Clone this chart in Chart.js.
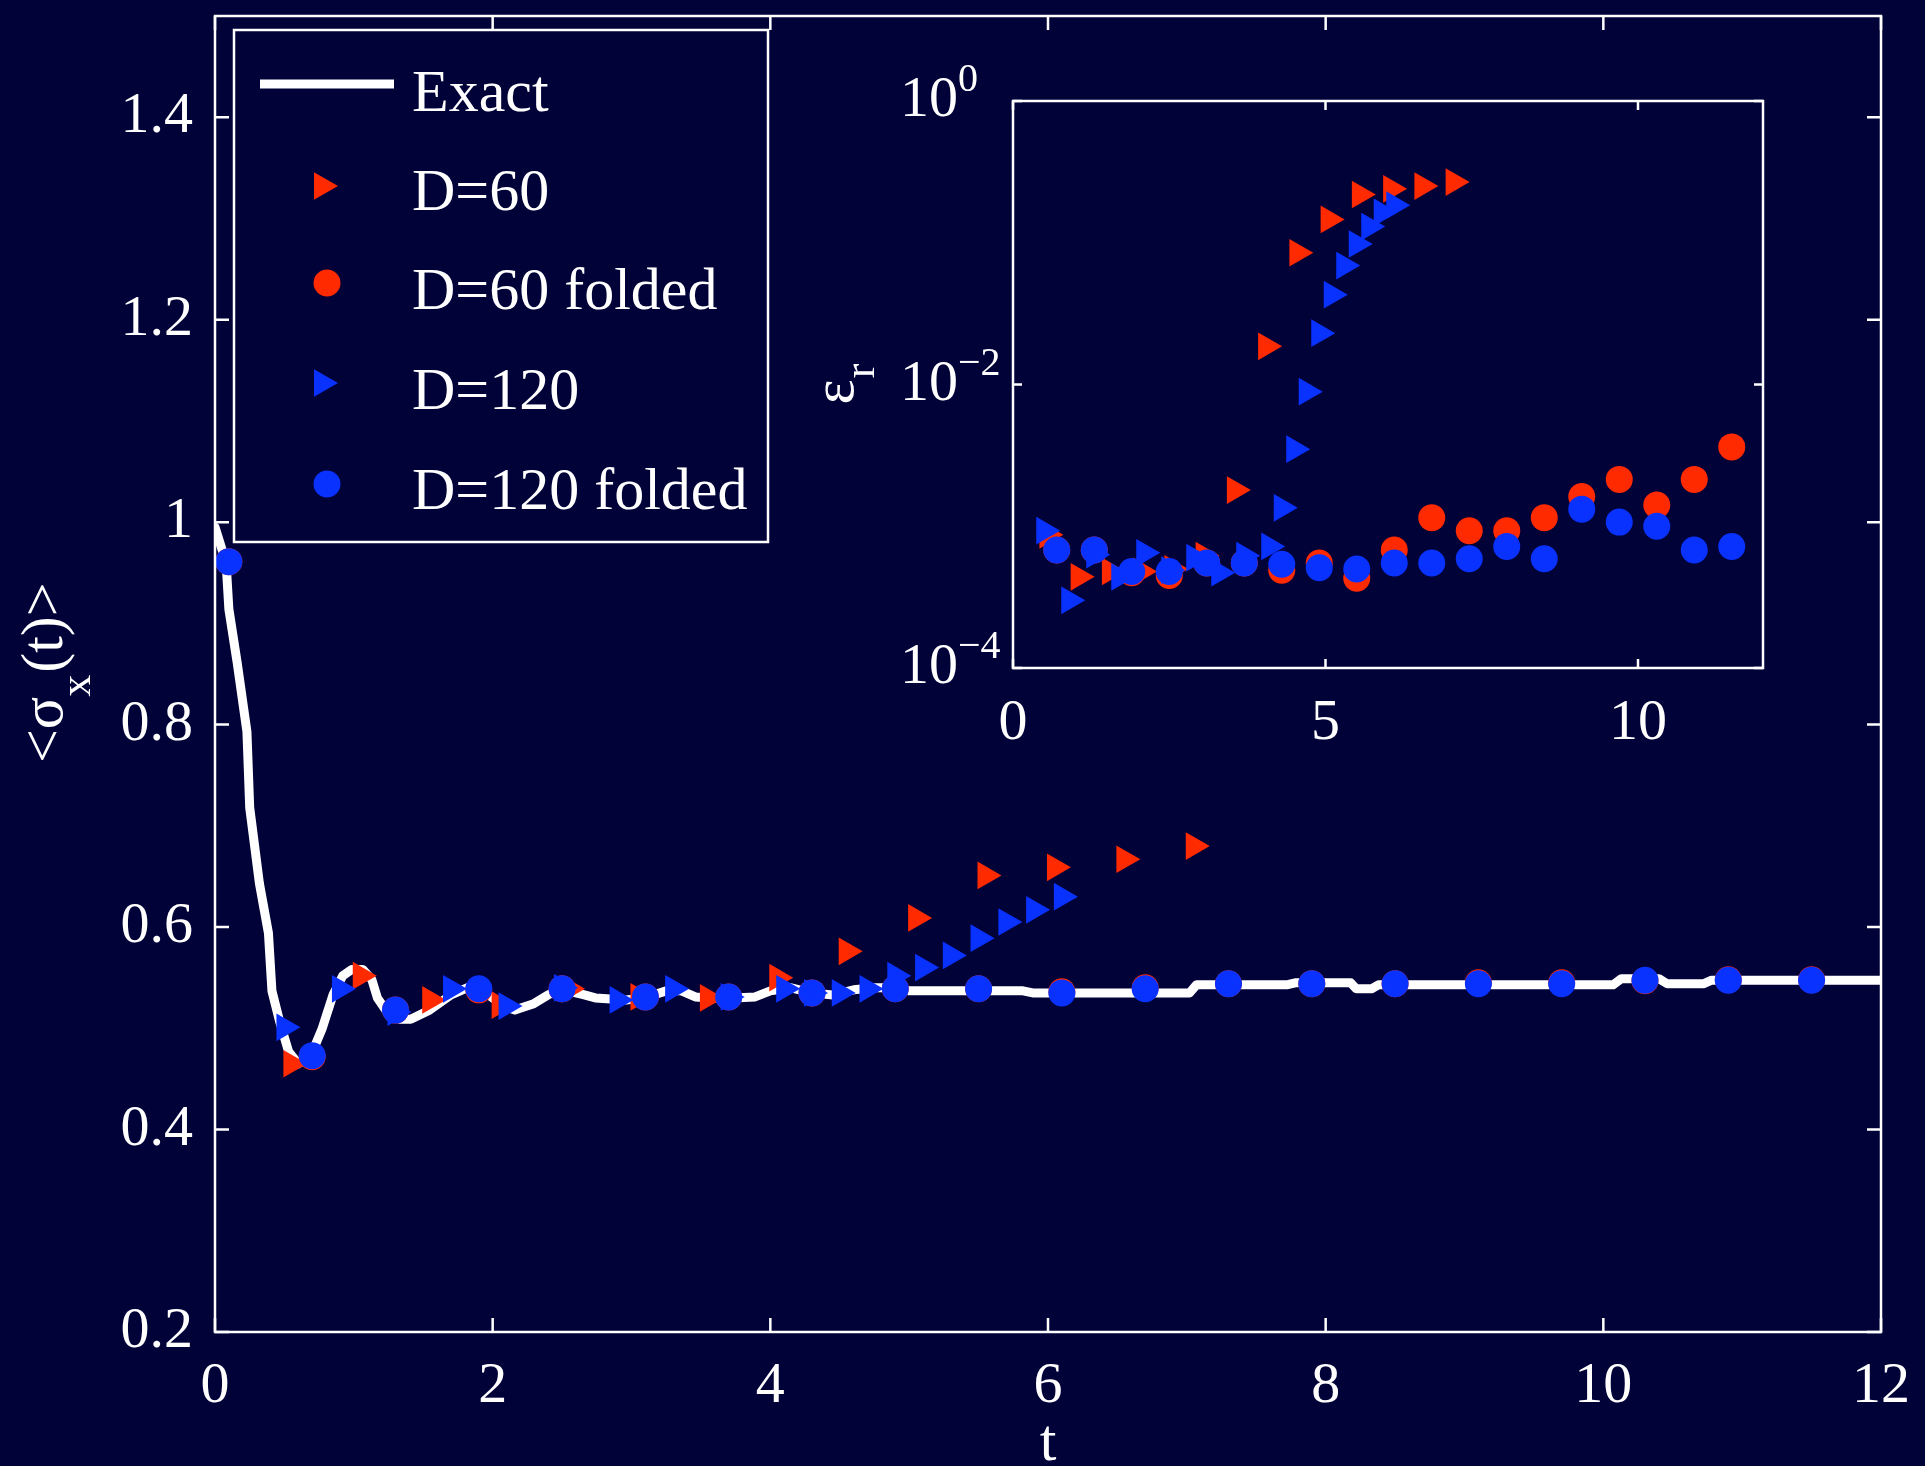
<!DOCTYPE html>
<html>
<head>
<meta charset="utf-8">
<script src="https://cdn.jsdelivr.net/npm/chart.js@4.4.1/dist/chart.umd.min.js"></script>
<style>
  html, body { margin: 0; padding: 0; background: #000238; overflow: hidden; }
  #wrap { position: relative; width: 1925px; height: 1466px; }
  #mainChart { position: absolute; left: 0; top: 0; }
  #insetChart { position: absolute; left: 780px; top: 40px; }
</style>
</head>
<body>
<div id="wrap">
  <canvas id="mainChart" width="1925" height="1466"></canvas>
  <canvas id="insetChart" width="1020" height="720"></canvas>
</div>
<script>
const RED = '#ff2a00';
const BLUE = '#0a32ff';
const FONT = '"Liberation Serif", "Times New Roman", serif';

// exact <sigma_x(t)>
const exactT = [0, 0.08, 0.10, 0.16, 0.23, 0.25, 0.32, 0.385, 0.41, 0.465, 0.53, 0.60, 0.69, 0.77, 0.85, 0.92, 0.985,
    1.065, 1.13, 1.17, 1.25, 1.33, 1.41, 1.545, 1.70, 1.865, 1.97, 2.08, 2.16, 2.29, 2.40, 2.48, 2.66, 2.74, 2.96,
    3.09, 3.25, 3.36, 3.46, 3.57, 3.73, 3.89, 4.0, 4.15, 4.3, 4.45, 4.6, 4.75, 4.9, 5.0, 5.82, 5.89, 7.02, 7.07,
    7.72, 7.78, 8.18, 8.22, 8.33, 8.38, 10.07, 10.13, 10.40, 10.46, 10.72, 10.78, 12];
const exactV = [0.995, 0.96, 0.914, 0.861, 0.793, 0.718, 0.643, 0.594, 0.537, 0.507, 0.477, 0.465, 0.473, 0.499, 0.533,
    0.552, 0.558, 0.558, 0.548, 0.530, 0.514, 0.509, 0.509, 0.518, 0.533, 0.543, 0.533, 0.522, 0.518, 0.524, 0.533,
    0.539, 0.533, 0.530, 0.528, 0.530, 0.537, 0.537, 0.531, 0.530, 0.530, 0.531, 0.537, 0.540, 0.535, 0.533, 0.538,
    0.540, 0.540, 0.537, 0.537, 0.535, 0.535, 0.543, 0.543, 0.545, 0.545, 0.539, 0.539, 0.543, 0.543, 0.549, 0.549,
    0.544, 0.544, 0.5475, 0.5475];

// D=60
const tD60 = [0.55, 1.05, 1.55, 2.05, 2.55, 3.05, 3.55, 4.05, 4.55, 5.05, 5.55, 6.05, 6.55, 7.05];
const sxD60 = [0.465, 0.552, 0.528, 0.523, 0.539, 0.531, 0.530, 0.550, 0.576, 0.609, 0.651, 0.659, 0.667, 0.680];
const errD60 = [8.7e-4, 4.4e-4, 4.8e-4, 4.8e-4, 5.0e-4, 6.2e-4, 1.8e-3, 1.86e-2, 8.5e-2, 0.146, 0.219, 0.24, 0.251, 0.268];

// D=120
const tD120 = [0.5, 0.9, 1.3, 1.7, 2.1, 2.5, 2.9, 3.3, 3.7, 4.1, 4.3, 4.5, 4.7, 4.9, 5.1, 5.3, 5.5, 5.7, 5.9, 6.1];
const sxD120 = [0.501, 0.539, 0.516, 0.539, 0.522, 0.540, 0.528, 0.539, 0.531, 0.539, 0.535, 0.535, 0.539, 0.552,
    0.560, 0.572, 0.589, 0.605, 0.617, 0.630];
const errD120 = [9.3e-4, 3.0e-4, 6.3e-4, 4.4e-4, 6.5e-4, 4.9e-4, 6.0e-4, 4.7e-4, 6.2e-4, 7.2e-4, 1.35e-3, 3.5e-3,
    8.9e-3, 2.3e-2, 4.3e-2, 6.9e-2, 9.8e-2, 0.13, 0.164, 0.184];

// folded runs
const tFolded = [0.1, 0.7, 1.3, 1.9, 2.5, 3.1, 3.7, 4.3, 4.9, 5.5, 6.1, 6.7, 7.3, 7.9, 8.5, 9.1, 9.7, 10.3, 10.9, 11.5];
const sxD60f = [0.961, 0.472, 0.518, 0.538, 0.539, 0.531, 0.531, 0.535, 0.539, 0.539, 0.536, 0.540, 0.544, 0.544,
    0.544, 0.545, 0.545, 0.547, 0.548, 0.548];
const errD60f = [null, 6.8e-4, 6.8e-4, 4.7e-4, 4.5e-4, 5.5e-4, 5.5e-4, 4.9e-4, 5.5e-4, 4.3e-4, 6.8e-4, 1.15e-3,
    9.3e-4, 9.3e-4, 1.15e-3, 1.62e-3, 2.14e-3, 1.41e-3, 2.14e-3, 3.63e-3];
const sxD120f = [0.961, 0.473, 0.518, 0.539, 0.539, 0.531, 0.531, 0.535, 0.539, 0.539, 0.535, 0.539, 0.544, 0.544,
    0.544, 0.544, 0.544, 0.5475, 0.5475, 0.5475];
const errD120f = [null, 6.8e-4, 6.8e-4, 4.8e-4, 4.8e-4, 5.5e-4, 5.5e-4, 5.4e-4, 5.1e-4, 5.0e-4, 5.5e-4, 5.5e-4,
    5.9e-4, 7.2e-4, 5.9e-4, 1.32e-3, 1.07e-3, 1.0e-3, 6.8e-4, 7.2e-4];

const mainXTicks = [0, 2, 4, 6, 8, 10, 12];
const mainYTicks = [0.2, 0.4, 0.6, 0.8, 1, 1.2, 1.4];
const insetXTicks = [0, 5, 10];
const insetYTicks = [1e-4, 1e-2, 1];
const insetYExp = ['\u22124', '\u22122', '0'];
const legendLabels = ['Exact', 'D=60', 'D=60 folded', 'D=120', 'D=120 folded'];

const pts = (xs, ys) => xs.map((x, i) => ({ x: x, y: ys[i] }));

function markers(label, data, color, style, order) {
    const tri = style === 'triangle';
    return {
        label: label,
        data: data,
        showLine: false,
        pointStyle: style,
        pointRotation: tri ? 90 : 0,
        pointRadius: tri ? 16 : 13.5,
        pointBackgroundColor: color,
        pointBorderColor: color,
        pointBorderWidth: 0,
        order: order
    };
}

// box + inward ticks on all four sides, matlab style
function frameTicks(xTicks, yTicks, len) {
    return {
        id: 'frameTicks',
        afterDatasetsDraw(chart) {
            const { ctx, chartArea: a, scales: { x, y } } = chart;
            ctx.save();
            ctx.strokeStyle = '#ffffff';
            ctx.lineWidth = 2.5;
            ctx.strokeRect(a.left, a.top, a.right - a.left, a.bottom - a.top);
            ctx.beginPath();
            xTicks.forEach(v => {
                const px = x.getPixelForValue(v);
                ctx.moveTo(px, a.bottom); ctx.lineTo(px, a.bottom - len);
                ctx.moveTo(px, a.top); ctx.lineTo(px, a.top + len);
            });
            yTicks.forEach(v => {
                const py = y.getPixelForValue(v);
                ctx.moveTo(a.left, py); ctx.lineTo(a.left + len, py);
                ctx.moveTo(a.right, py); ctx.lineTo(a.right - len, py);
            });
            ctx.stroke();
            ctx.restore();
        }
    };
}

const mainDecor = {
    id: 'mainDecor',
    afterDraw(chart) {
        const { ctx, chartArea: a } = chart;
        const ds = chart.data.datasets;
        ctx.save();
        // legend box
        ctx.fillStyle = '#000238';
        ctx.fillRect(234, 30, 534, 512);
        ctx.strokeStyle = '#ffffff';
        ctx.lineWidth = 2.5;
        ctx.strokeRect(234, 30, 534, 512);
        const markerY = [84, 186, 283, 383, 484];
        const textY = [111, 210, 309, 409, 509];
        legendLabels.forEach((lab, i) => {
            if (i === 0) {
                ctx.strokeStyle = '#ffffff';
                ctx.lineWidth = 9;
                ctx.beginPath();
                ctx.moveTo(260, markerY[i]);
                ctx.lineTo(394, markerY[i]);
                ctx.stroke();
            } else {
                const d = ds[i];
                const tri = d.pointStyle === 'triangle';
                ctx.fillStyle = d.pointBackgroundColor;
                Chart.helpers.drawPoint(ctx, {
                    pointStyle: d.pointStyle, rotation: d.pointRotation,
                    radius: d.pointRadius, borderWidth: 0
                }, tri ? 322 : 327, markerY[i]);
            }
            ctx.fillStyle = '#ffffff';
            ctx.font = '60px ' + FONT;
            ctx.textAlign = 'left';
            ctx.textBaseline = 'alphabetic';
            ctx.fillText(lab, 412, textY[i]);
        });
        // x title
        ctx.fillStyle = '#ffffff';
        ctx.font = '60px ' + FONT;
        ctx.textAlign = 'center';
        ctx.fillText('t', (a.left + a.right) / 2, 1460);
        // y title  <σx(t)>
        ctx.translate(62, 763);
        ctx.rotate(-Math.PI / 2);
        ctx.textAlign = 'left';
        ctx.font = '60px ' + FONT;
        ctx.fillText('<\u03c3', 0, 0);
        let w = ctx.measureText('<\u03c3').width;
        ctx.font = '44px ' + FONT;
        ctx.fillText('x', w, 28);
        w += ctx.measureText('x').width + 2;
        ctx.font = '60px ' + FONT;
        ctx.fillText('(t)>', w, 0);
        ctx.restore();
    }
};

const insetDecor = {
    id: 'insetDecor',
    afterDraw(chart) {
        const { ctx, chartArea: a, scales: { y } } = chart;
        ctx.save();
        ctx.fillStyle = '#ffffff';
        insetYTicks.forEach((v, i) => {
            const py = y.getPixelForValue(v);
            ctx.font = '58px ' + FONT;
            ctx.textAlign = 'right';
            ctx.textBaseline = 'middle';
            ctx.fillText('10', a.left - 55, py);
            ctx.font = '40px ' + FONT;
            ctx.textAlign = 'left';
            ctx.textBaseline = 'alphabetic';
            ctx.fillText(insetYExp[i], a.left - 55, py - 10);
        });
        // y title  ε_r
        ctx.translate(a.left - 160, (a.top + a.bottom) / 2 + 20);
        ctx.rotate(-Math.PI / 2);
        ctx.textBaseline = 'alphabetic';
        ctx.font = '60px ' + FONT;
        ctx.fillText('\u03b5', 0, 0);
        const w = ctx.measureText('\u03b5').width;
        ctx.font = '44px ' + FONT;
        ctx.fillText('r', w + 1, 21);
        ctx.restore();
    }
};

const tickFont = { family: FONT, size: 58 };
function zeroPad(s) { s.paddingTop = 0; s.paddingBottom = 0; s.paddingLeft = 0; s.paddingRight = 0; }
const plainNum = v => String(+Number(v).toFixed(2));

new Chart(document.getElementById('mainChart'), {
    type: 'scatter',
    data: {
        datasets: [
            {
                label: 'Exact',
                data: pts(exactT, exactV),
                showLine: true,
                borderColor: '#ffffff',
                borderWidth: 9,
                borderJoinStyle: 'round',
                borderCapStyle: 'round',
                pointRadius: 0,
                tension: 0,
                order: 10
            },
            markers('D=60', pts(tD60, sxD60), RED, 'triangle', 4),
            markers('D=60 folded', pts(tFolded, sxD60f), RED, 'circle', 3),
            markers('D=120', pts(tD120, sxD120), BLUE, 'triangle', 2),
            markers('D=120 folded', pts(tFolded, sxD120f), BLUE, 'circle', 1)
        ]
    },
    options: {
        responsive: false,
        animation: false,
        events: [],
        layout: { padding: { left: 0, top: 13, right: 44, bottom: 0 } },
        scales: {
            x: {
                type: 'linear', min: 0, max: 12,
                grid: { display: false }, border: { display: false },
                ticks: { stepSize: 2, color: '#ffffff', font: tickFont, padding: 12, maxRotation: 0, callback: plainNum },
                afterFit: s => { s.height = 134; zeroPad(s); }
            },
            y: {
                type: 'linear', min: 0.2, max: 1.5,
                grid: { display: false }, border: { display: false },
                ticks: { stepSize: 0.2, includeBounds: false, color: '#ffffff', font: tickFont, padding: 14, callback: plainNum },
                afterFit: s => { s.width = 215; zeroPad(s); }
            }
        },
        plugins: { legend: { display: false }, tooltip: { enabled: false } }
    },
    plugins: [frameTicks(mainXTicks, mainYTicks, 14), mainDecor]
});

new Chart(document.getElementById('insetChart'), {
    type: 'scatter',
    data: {
        datasets: [
            markers('D=60', pts(tD60, errD60), RED, 'triangle', 4),
            markers('D=60 folded', pts(tFolded, errD60f), RED, 'circle', 3),
            markers('D=120', pts(tD120, errD120), BLUE, 'triangle', 2),
            markers('D=120 folded', pts(tFolded, errD120f), BLUE, 'circle', 1)
        ]
    },
    options: {
        responsive: false,
        animation: false,
        events: [],
        layout: { padding: { left: 0, top: 61, right: 37, bottom: 0 } },
        scales: {
            x: {
                type: 'linear', min: 0, max: 12,
                grid: { display: false }, border: { display: false },
                ticks: { stepSize: 5, includeBounds: false, color: '#ffffff', font: tickFont, padding: 13, maxRotation: 0, callback: plainNum },
                afterFit: s => { s.height = 92; zeroPad(s); }
            },
            y: {
                type: 'logarithmic', min: 1e-4, max: 1,
                grid: { display: false }, border: { display: false },
                ticks: { display: false },
                afterFit: s => { s.width = 233; zeroPad(s); }
            }
        },
        plugins: { legend: { display: false }, tooltip: { enabled: false } }
    },
    plugins: [frameTicks(insetXTicks, insetYTicks, 9), insetDecor]
});
</script>
</body>
</html>
